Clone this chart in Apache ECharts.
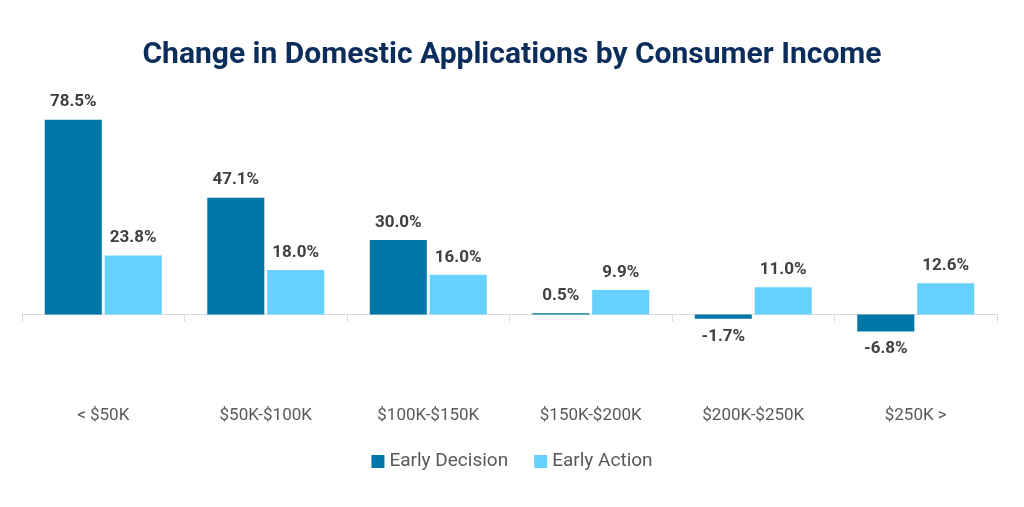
<!DOCTYPE html>
<html>
<head>
<meta charset="utf-8">
<script src="https://cdn.jsdelivr.net/npm/echarts@6/dist/echarts.min.js"></script>
<style>
  html, body { margin: 0; padding: 0; background: #fff; }
  #chart { width: 1024px; height: 507px; }
</style>
</head>
<body>
<div id="chart"></div>
<script>
const categories = ['< $50K', '$50K-$100K', '$100K-$150K', '$150K-$200K', '$200K-$250K', '$250K >']
const earlyDecision = [78.5, 47.1, 30.0, 0.5, -1.7, -6.8]
const earlyAction = [23.8, 18.0, 16.0, 9.9, 11.0, 12.6]

const labelColor = '#404040'
const fontFamily = 'Roboto, "Noto Sans", sans-serif'

// negative bars get their label underneath
const toItems = values =>
  values.map(v => ({
    value: v,
    label: { position: v < 0 ? 'bottom' : 'top' },
  }))

const chart = echarts.init(document.getElementById('chart'))

const barLabel = {
  show: true,
  distance: 9,
  fontFamily,
  fontSize: 17,
  fontWeight: 'bold',
  color: labelColor,
  formatter: p => p.value.toFixed(1) + '%',
}

chart.setOption({
  backgroundColor: '#ffffff',
  animation: false,
  title: {
    text: 'Change in Domestic Applications by Consumer Income',
    left: 'center',
    top: 35,
    textStyle: {
      fontFamily,
      fontSize: 30,
      fontWeight: 'bold',
      color: '#0b2d5b',
    },
  },
  legend: {
    bottom: 31,
    left: 'center',
    icon: 'rect',
    itemWidth: 13,
    itemHeight: 13,
    itemGap: 26,
    textStyle: {
      fontFamily,
      fontSize: 19,
      color: '#595959',
    },
    data: ['Early Decision', 'Early Action'],
  },
  grid: {
    left: 22,
    right: 27,
    top: 116,
    height: 278,
    containLabel: false,
  },
  xAxis: [
    {
      type: 'category',
      data: categories,
      position: 'bottom',
      axisLine: { show: false, onZero: false },
      axisTick: { show: false },
      axisLabel: {
        margin: 13,
        fontFamily,
        fontSize: 17,
        color: '#595959',
      },
    },
    {
      type: 'category',
      data: categories,
      position: 'bottom',
      axisLine: { show: true, onZero: true, lineStyle: { color: '#d9d9d9', width: 1 } },
      axisTick: { show: true, length: 7, lineStyle: { color: '#d9d9d9' } },
      axisLabel: { show: false },
    },
  ],
  yAxis: {
    type: 'value',
    min: -32,
    max: 80,
    show: false,
    splitLine: { show: false },
  },
  series: [
    {
      name: 'Early Decision',
      type: 'bar',
      xAxisIndex: 0,
      data: toItems(earlyDecision),
      itemStyle: { color: '#0077a8' },
      barGap: '5%',
      barCategoryGap: '28%',
      label: barLabel,
    },
    {
      name: 'Early Action',
      type: 'bar',
      xAxisIndex: 0,
      data: toItems(earlyAction),
      itemStyle: { color: '#66d1ff' },
      barGap: '5%',
      barCategoryGap: '28%',
      label: barLabel,
    },
  ],
})
</script>
</body>
</html>
